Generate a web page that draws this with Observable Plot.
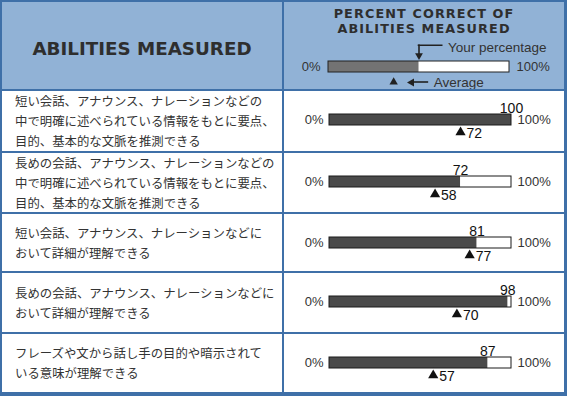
<!DOCTYPE html>
<html>
<head>
<meta charset="utf-8">
<script src="https://cdn.jsdelivr.net/npm/d3@7"></script>
<script src="https://cdn.jsdelivr.net/npm/@observablehq/plot@0.6"></script>
<style>
html,body{margin:0;padding:0;background:#fff;}
#chart{width:567px;height:396px;box-sizing:border-box;padding:2px 3px 4px 2px;background:#3f70a8;
  display:grid;grid-template-columns:280px 280px;grid-template-rows:87px 60px 59px 57px 59px 58px;gap:2px;}
.hdr{background:#91b2d6;position:relative;overflow:hidden;}
.cell{background:#fff;position:relative;overflow:hidden;}
.hleft{display:flex;align-items:center;justify-content:center;padding-top:6px;box-sizing:border-box;
  font-family:"DejaVu Sans",sans-serif;font-weight:bold;font-size:18.3px;color:#2e2e2e;}
.htitle{position:absolute;left:0;top:4px;width:100%;text-align:center;font-family:"DejaVu Sans",sans-serif;
  font-weight:bold;font-size:12.8px;line-height:15px;letter-spacing:1.1px;color:#2e2e2e;}
.lab{display:flex;align-items:center;padding-left:13px;font-family:"Noto Sans CJK JP",sans-serif;
  font-size:12.4px;line-height:20px;color:#333;white-space:pre-line;}
.cell svg,.hdr svg{position:absolute;left:0;top:0;display:block;}
</style>
</head>
<body>
<div id="chart"></div>
<script>
// ---- data ----
const headerLeft = "ABILITIES MEASURED";
const headerRight = ["PERCENT CORRECT OF", "ABILITIES MEASURED"];
const legendLabels = ["Your percentage", "Average"];
const legendYour = 50;
const legendAverage = 36;
const axisMin = 0;
const axisMax = 100;
const abilities = [
  "短い会話、アナウンス、ナレーションなどの\n中で明確に述べられている情報をもとに要点、\n目的、基本的な文脈を推測できる",
  "長めの会話、アナウンス、ナレーションなどの\n中で明確に述べられている情報をもとに要点、\n目的、基本的な文脈を推測できる",
  "短い会話、アナウンス、ナレーションなどに\nおいて詳細が理解できる",
  "長めの会話、アナウンス、ナレーションなどに\nおいて詳細が理解できる",
  "フレーズや文から話し手の目的や暗示されて\nいる意味が理解できる"
];
const yourPercent = [100, 72, 81, 98, 87];
const averagePercent = [72, 58, 77, 70, 57];

// ---- layout ----
const rowHeights = [60, 59, 57, 59, 58];
const W = 280;
const font = "'Liberation Sans', Arial, sans-serif";
const chart = document.getElementById("chart");

const full = [{a: axisMin, b: axisMax}];
const pctText = d => d + "%";

// header left
const hl = document.createElement("div");
hl.className = "hdr hleft";
hl.textContent = headerLeft;
chart.appendChild(hl);

// header right with legend
const hr = document.createElement("div");
hr.className = "hdr";
chart.appendChild(hr);
{
  const H = 87;
  const svg = Plot.plot({
    width: W, height: H,
    marginLeft: 44, marginRight: 55, marginTop: 59, marginBottom: 17,
    x: {domain: [axisMin, axisMax], axis: null},
    style: {fontFamily: font, fontSize: "13px", background: "transparent", overflow: "visible"},
    marks: [
      Plot.barX(full, {x1: "a", x2: "b", fill: "white"}),
      Plot.barX([legendYour], {x1: () => axisMin, x2: d => d, fill: "#737373"}),
      Plot.barX(full, {x1: "a", x2: "b", fill: "none", stroke: "#222", strokeWidth: 1}),
      Plot.text([axisMin], {x: d => d, text: pctText, frameAnchor: "middle", textAnchor: "end", dx: -8, fill: "#333", fontSize: 13}),
      Plot.text([axisMax], {x: d => d, text: pctText, frameAnchor: "middle", textAnchor: "start", dx: 7, fill: "#333", fontSize: 13}),
      // "Your percentage" elbow arrow
      Plot.ruleX([legendYour], {x: d => d, stroke: "#222", strokeWidth: 1.6, insetTop: -16.5, insetBottom: 17}),
      Plot.barX([legendYour], {x1: d => d, x2: d => d, fill: "#222", insetLeft: -0.8, insetRight: -24, insetTop: -16.5, insetBottom: 26}),
      Plot.dot([legendYour], {x: d => d, frameAnchor: "top", symbol: "triangle", rotate: 180, r: 2.9, fill: "#222", stroke: null, dy: -6}),
      Plot.text([legendLabels[0]], {x: () => legendYour, text: d => d, frameAnchor: "top", textAnchor: "start", lineAnchor: "middle", dx: 29, dy: -14, fill: "#333", fontSize: 13.5}),
      // Average marker and arrow
      Plot.dot([legendAverage], {x: d => d, frameAnchor: "bottom", symbol: "triangle", r: 3.1, fill: "#222", stroke: null, dy: 9.5}),
      Plot.dot([legendAverage], {x: d => d, frameAnchor: "bottom", symbol: "triangle", rotate: -90, r: 3, fill: "#222", stroke: null, dx: 18, dy: 10}),
      Plot.barX([legendAverage], {x1: d => d, x2: d => d, fill: "#222", insetLeft: 18, insetRight: -35, insetTop: 20.2, insetBottom: -10.8}),
      Plot.text([legendLabels[1]], {x: () => legendAverage, text: d => d, frameAnchor: "bottom", textAnchor: "start", lineAnchor: "middle", dx: 40, dy: 10, fill: "#333", fontSize: 13.5})
    ]
  });
  hr.appendChild(svg);
  const t = document.createElement("div");
  t.className = "htitle";
  t.innerHTML = headerRight.join("<br>");
  hr.appendChild(t);
}

// rows
abilities.forEach((label, i) => {
  const l = document.createElement("div");
  l.className = "cell lab";
  l.textContent = label;
  chart.appendChild(l);

  const c = document.createElement("div");
  c.className = "cell";
  chart.appendChild(c);
  const h = rowHeights[i];
  const top = 23, bh = 11;
  const d = {your: yourPercent[i], avg: averagePercent[i]};
  const svg = Plot.plot({
    width: W, height: h,
    marginLeft: 45, marginRight: 53, marginTop: top, marginBottom: h - top - bh,
    x: {domain: [axisMin, axisMax], axis: null},
    style: {fontFamily: font, fontSize: "13px", background: "transparent", overflow: "visible"},
    marks: [
      Plot.barX(full, {x1: "a", x2: "b", fill: "white"}),
      Plot.barX([d], {x1: () => axisMin, x2: "your", fill: "#4a4a4a"}),
      Plot.barX(full, {x1: "a", x2: "b", fill: "none", stroke: "#1a1a1a", strokeWidth: 1}),
      Plot.text([d], {x: "your", text: v => String(v.your), frameAnchor: "top", lineAnchor: "bottom", dy: -2, fontSize: 14, fill: "#111"}),
      Plot.dot([d], {x: "avg", frameAnchor: "bottom", symbol: "triangle", r: 3.8, fill: "#111", stroke: null, dy: 6.9}),
      Plot.text([d], {x: "avg", text: v => String(v.avg), frameAnchor: "bottom", lineAnchor: "top", textAnchor: "start", dx: 6, dy: 3, fontSize: 14, fill: "#111"}),
      Plot.text([axisMin], {x: v => v, text: pctText, frameAnchor: "middle", textAnchor: "end", dx: -6, fill: "#333", fontSize: 13}),
      Plot.text([axisMax], {x: v => v, text: pctText, frameAnchor: "middle", textAnchor: "start", dx: 6, fill: "#333", fontSize: 13})
    ]
  });
  c.appendChild(svg);
});
</script>
</body>
</html>
